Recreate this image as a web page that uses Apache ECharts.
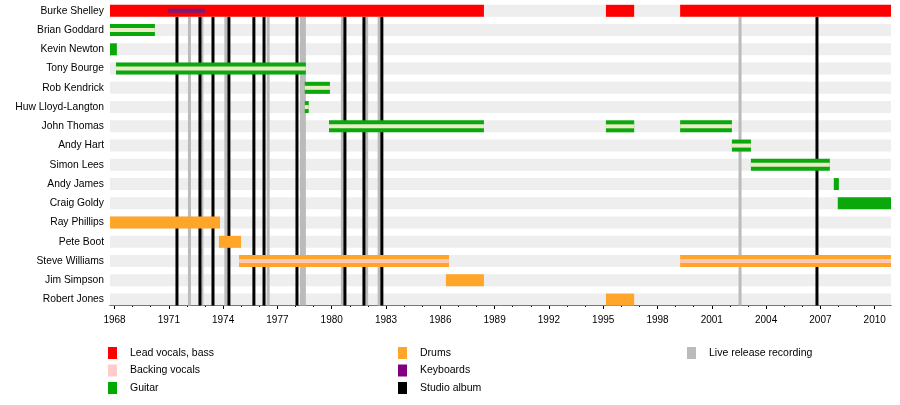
<!DOCTYPE html>
<html>
<head>
<meta charset="utf-8">
<script src="https://cdn.jsdelivr.net/npm/echarts@6/dist/echarts.min.js"></script>
<style>
  html, body { margin: 0; padding: 0; background: #fff; }
  #main { width: 900px; height: 405px; }
</style>
</head>
<body>
<div id="main"></div>
<script>
// band members, top to bottom
var members = ['Burke Shelley', 'Brian Goddard', 'Kevin Newton', 'Tony Bourge', 'Rob Kendrick',
  'Huw Lloyd-Langton', 'John Thomas', 'Andy Hart', 'Simon Lees', 'Andy James', 'Craig Goldy',
  'Ray Phillips', 'Pete Boot', 'Steve Williams', 'Jim Simpson', 'Robert Jones'];

var tickYears = [1968, 1971, 1974, 1977, 1980, 1983, 1986, 1989, 1992, 1995, 1998, 2001, 2004, 2007, 2010];
var minorYears = [1968, 1969, 1970, 1971, 1972, 1973, 1974, 1975, 1976, 1977, 1978, 1979, 1980, 1981,
  1982, 1983, 1984, 1985, 1986, 1987, 1988, 1989, 1990, 1991, 1992, 1993, 1994, 1995, 1996, 1997,
  1998, 1999, 2000, 2001, 2002, 2003, 2004, 2005, 2006, 2007, 2008, 2009, 2010];

var startYear = 1967.75;
var endYear = 2010.9;

// [row, from, till]
var leadVocals = [[0, 1967.75, 1988.41], [0, 1995.15, 1996.71], [0, 1999.25, 2010.9]];
var keyboards = [[0, 1970.97, 1973.0]];
var guitar = [
  [1, 1967.75, 1970.23], [2, 1967.75, 1968.13], [3, 1968.08, 1978.57], [4, 1978.51, 1979.9],
  [5, 1978.51, 1978.73], [6, 1979.85, 1988.41], [6, 1995.15, 1996.71], [6, 1999.25, 2002.11],
  [7, 2002.11, 2003.16], [8, 2003.16, 2007.52], [9, 2007.74, 2008.02], [10, 2007.96, 2010.9]
];
var drums = [
  [11, 1967.75, 1973.83], [12, 1973.77, 1974.99], [13, 1974.88, 1986.48], [13, 1999.25, 2010.9],
  [14, 1986.31, 1988.41], [15, 1995.15, 1996.71]
];
var backingVocals = [
  [1, 1967.75, 1970.23], [3, 1968.08, 1978.57], [4, 1978.51, 1979.9], [5, 1978.51, 1978.73],
  [6, 1979.85, 1988.41], [6, 1995.15, 1996.71], [6, 1999.25, 2002.11], [7, 2002.11, 2003.16],
  [8, 2003.16, 2007.52], [13, 1974.88, 1986.48], [13, 1999.25, 2010.9]
];
var studioAlbums = [1971.45, 1972.72, 1973.44, 1974.32, 1975.7, 1976.26, 1978.08, 1980.73, 1981.78, 1982.77, 2006.81];
var liveReleases = [1972.14, 1972.83, 1974.15, 1976.49, 1978.33, 1978.49, 1980.59, 1981.93, 1982.62, 2002.56];

var drumRows = [11, 12, 13, 14, 15];

function barItem(h, fill) {
  return function (params, api) {
    var row = api.value(0);
    var s = api.coord([api.value(1), row]);
    var e = api.coord([api.value(2), row]);
    var f = typeof fill === 'function' ? fill(row) : fill;
    return {
      type: 'rect',
      shape: { x: s[0], y: s[1] - h / 2, width: e[0] - s[0], height: h },
      style: { fill: f }
    };
  };
}

// album lines run from under the first row down to the time axis
function lineItem(color) {
  return function (params, api) {
    var year = api.value(0);
    var top = api.coord([year, 0]);
    var bottom = api.coord([year, members.length - 1]);
    return {
      type: 'line',
      shape: { x1: top[0], y1: top[1] + 6, x2: top[0], y2: bottom[1] + 6 },
      style: { stroke: color, lineWidth: 3 }
    };
  };
}

var font = 'Liberation Sans, Arial, sans-serif';
var chart = echarts.init(document.getElementById('main'));

var legendBase = {
  orient: 'vertical',
  top: 347,
  padding: 0,
  icon: 'rect',
  itemWidth: 9,
  itemHeight: 12,
  itemGap: 5.5,
  selectedMode: false,
  textStyle: { fontFamily: font, fontSize: 10.5, color: '#000', padding: [0, 0, 0, 8] }
};

chart.setOption({
  animation: false,
  grid: [
    { left: 110, right: 9, top: 1.2, height: 308 },
    { left: 110, right: 9, top: 304, height: 1 }
  ],
  legend: [
    Object.assign({ left: 108, data: ['Lead vocals, bass', 'Backing vocals', 'Guitar'] }, legendBase),
    Object.assign({ left: 398, data: ['Drums', 'Keyboards', 'Studio album'] }, legendBase),
    Object.assign({ left: 687, data: ['Live release recording'] }, legendBase)
  ],
  xAxis: [
    {
      type: 'value', gridIndex: 0, min: startYear, max: endYear,
      axisLine: { show: false }, axisTick: { show: false }, axisLabel: { show: false }, splitLine: { show: false }
    },
    {
      type: 'value', gridIndex: 1, min: startYear, max: endYear, position: 'bottom',
      axisLine: { show: true, lineStyle: { color: '#000', width: 1 } },
      axisTick: { show: true, customValues: tickYears, length: 4, lineStyle: { color: '#000' } },
      axisLabel: {
        show: true, customValues: tickYears, fontFamily: font, fontSize: 10, color: '#000', margin: 10,
        formatter: function (v) { return String(v); }
      },
      splitLine: { show: false }
    },
    {
      type: 'value', gridIndex: 1, min: startYear, max: endYear, position: 'bottom',
      axisLine: { show: false },
      axisTick: { show: true, customValues: minorYears, length: 2, lineStyle: { color: '#000' } },
      axisLabel: { show: false },
      splitLine: { show: false }
    }
  ],
  yAxis: [
    {
      type: 'category', gridIndex: 0, data: members, inverse: true,
      axisLine: { show: false }, axisTick: { show: false },
      axisLabel: { fontFamily: font, fontSize: 10.3, color: '#000', margin: 6 }
    },
    { type: 'value', gridIndex: 1, show: false }
  ],
  series: [
    {
      name: 'bands', type: 'custom', z: 1, silent: true,
      data: members.map(function (m, i) { return [i, startYear, endYear]; }),
      encode: { x: [1, 2], y: 0 },
      renderItem: barItem(12, '#eeeeee')
    },
    {
      name: 'Live release recording', type: 'custom', z: 2,
      itemStyle: { color: '#bbbbbb' },
      data: liveReleases.map(function (y) { return [y]; }),
      encode: { x: 0 },
      renderItem: lineItem('#bbbbbb')
    },
    {
      name: 'Studio album', type: 'custom', z: 3,
      itemStyle: { color: '#000000' },
      data: studioAlbums.map(function (y) { return [y]; }),
      encode: { x: 0 },
      renderItem: lineItem('#000000')
    },
    {
      name: 'Lead vocals, bass', type: 'custom', z: 4,
      itemStyle: { color: '#ff0000' },
      data: leadVocals, encode: { x: [1, 2], y: 0 },
      renderItem: barItem(12, '#ff0000')
    },
    {
      name: 'Guitar', type: 'custom', z: 4,
      itemStyle: { color: '#00aa00' },
      data: guitar, encode: { x: [1, 2], y: 0 },
      renderItem: barItem(12, '#0aa80a')
    },
    {
      name: 'Drums', type: 'custom', z: 4,
      itemStyle: { color: '#ffa52a' },
      data: drums, encode: { x: [1, 2], y: 0 },
      renderItem: barItem(12, '#ffa52a')
    },
    {
      name: 'Backing vocals', type: 'custom', z: 5,
      itemStyle: { color: '#ffcccc' },
      data: backingVocals, encode: { x: [1, 2], y: 0 },
      renderItem: barItem(4, function (row) {
        return drumRows.indexOf(row) >= 0 ? '#ffc8b4' : '#ecebc8';
      })
    },
    {
      name: 'Keyboards', type: 'custom', z: 6,
      itemStyle: { color: '#800080' },
      data: keyboards, encode: { x: [1, 2], y: 0 },
      renderItem: barItem(4, '#7a1a78')
    }
  ]
});
</script>
</body>
</html>
